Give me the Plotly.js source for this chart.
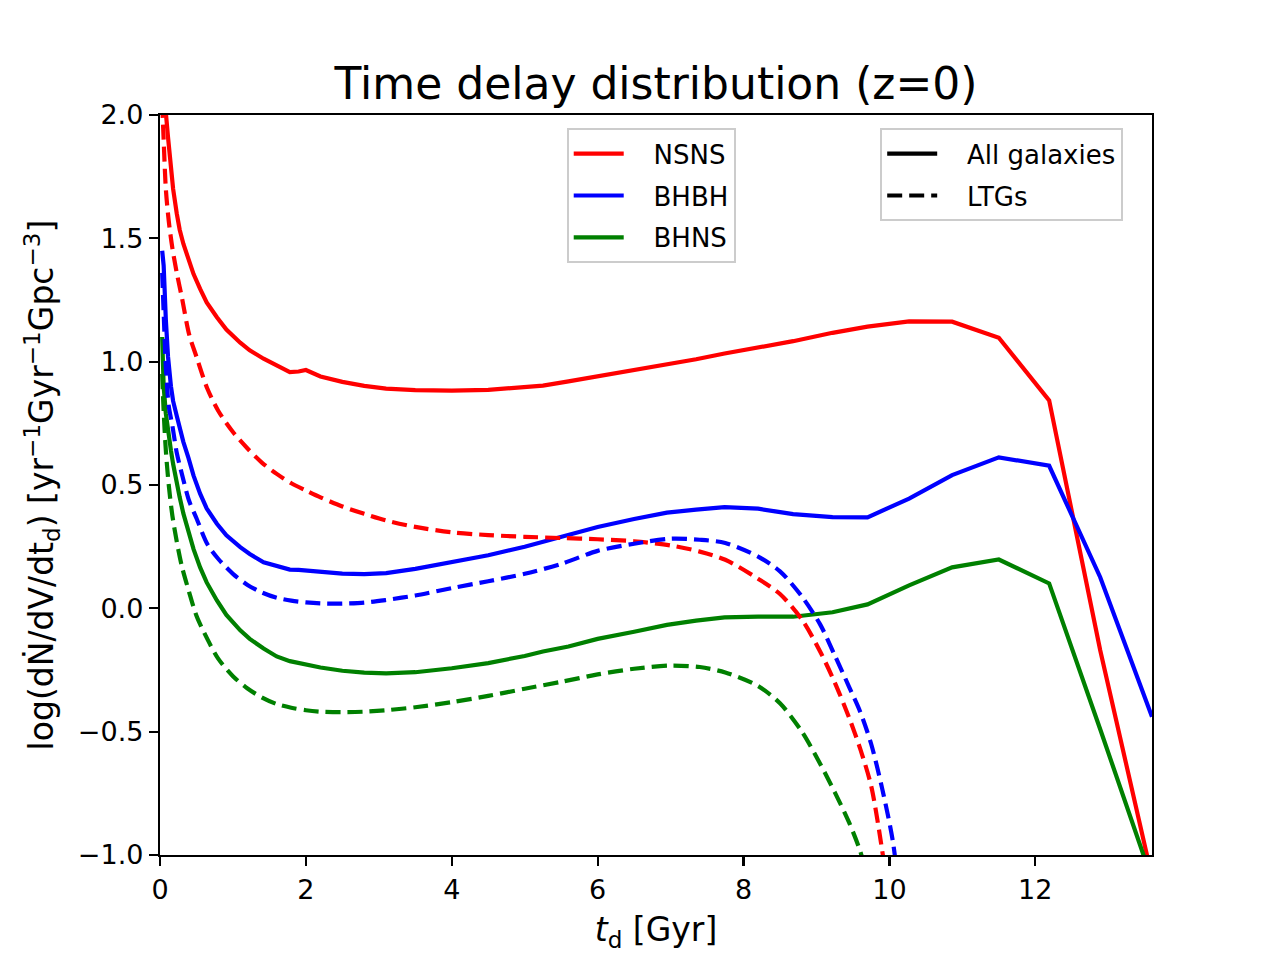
<!DOCTYPE html>
<html>
<head>
<meta charset="utf-8">
<script src="https://cdn.plot.ly/plotly-3.0.1.min.js"></script>
<style>html,body{margin:0;padding:0;background:#fff;}#plot{width:1280px;height:960px;}</style>
</head>
<body>
<div id="plot"></div>
<script>
// time-delay grid for "All galaxies" curves [Gyr]
const tAll = [0.03,0.05,0.08,0.11,0.15,0.18,0.23,0.27,0.32,0.39,0.46,0.55,0.64,0.78,0.91,1.1,1.23,1.42,1.6,1.78,
  1.9,2.0,2.2,2.5,2.8,3.1,3.5,4.0,4.5,5.0,5.25,5.6,6.0,6.5,6.95,7.35,7.74,8.2,8.68,9.22,9.7,10.27,10.86,11.5,12.19,12.89,13.6];
const nsnsAll = [2.5,2.25,2.01,1.91,1.78,1.70,1.60,1.535,1.478,1.41,1.355,1.295,1.24,1.18,1.13,1.077,1.046,1.012,0.985,0.958,
  0.96,0.966,0.94,0.918,0.902,0.891,0.885,0.883,0.886,0.895,0.903,0.92,0.94,0.965,0.99,1.01,1.033,1.057,1.083,1.117,1.142,1.163,1.162,1.097,0.843,-0.17,-1.09];
const bhbhAll = [1.45,1.39,1.17,1.02,0.9,0.84,0.78,0.725,0.675,0.61,0.538,0.465,0.405,0.343,0.296,0.248,0.22,0.187,0.17,0.157,
  0.156,0.153,0.146,0.141,0.139,0.143,0.16,0.188,0.215,0.25,0.27,0.3,0.33,0.362,0.388,0.4,0.41,0.404,0.382,0.37,0.369,0.445,0.54,0.612,0.578,0.126,-0.44];
const bhnsAll = [1.1,0.9,0.79,0.715,0.64,0.585,0.505,0.45,0.385,0.31,0.24,0.166,0.105,0.032,-0.027,-0.089,-0.124,-0.163,-0.195,-0.214,
  -0.222,-0.227,-0.24,-0.253,-0.261,-0.264,-0.259,-0.243,-0.222,-0.193,-0.175,-0.155,-0.124,-0.095,-0.067,-0.05,-0.037,-0.034,-0.034,-0.016,0.016,0.093,0.166,0.198,0.101,-0.49,-1.1];

// time-delay grid for "LTGs" curves [Gyr]
const tLTG = [0.03,0.05,0.08,0.12,0.17,0.23,0.3,0.4,0.5,0.65,0.8,1.0,1.2,1.4,1.6,1.8,2.0,2.2,2.5,2.8,3.1,3.5,4.0,4.5,5.0,5.5,6.0,6.5,7.0,7.4,7.75,8.2,8.5,8.8,9.05,9.25,9.45,9.6,9.75,9.9,10.05,10.2];
const nsnsLTG = [2.05,1.9,1.7,1.57,1.46,1.36,1.26,1.11,1.02,0.89,0.80,0.715,0.648,0.59,0.545,0.507,0.478,0.45,0.413,0.383,0.356,0.33,0.308,0.297,0.29,0.285,0.28,0.272,0.255,0.23,0.197,0.12,0.058,-0.045,-0.175,-0.3,-0.445,-0.57,-0.72,-0.98,-1.3,-1.7];
const bhbhLTG = [1.36,1.2,0.98,0.82,0.74,0.63,0.545,0.435,0.365,0.26,0.2,0.14,0.095,0.064,0.043,0.031,0.024,0.02,0.019,0.023,0.034,0.052,0.082,0.11,0.14,0.18,0.233,0.262,0.282,0.278,0.265,0.21,0.15,0.048,-0.065,-0.19,-0.32,-0.42,-0.55,-0.73,-0.95,-1.35];
const bhnsLTG = [0.95,0.8,0.64,0.5,0.375,0.27,0.17,0.065,-0.03,-0.125,-0.205,-0.275,-0.325,-0.362,-0.388,-0.403,-0.413,-0.419,-0.421,-0.419,-0.413,-0.401,-0.38,-0.355,-0.326,-0.298,-0.268,-0.245,-0.232,-0.238,-0.26,-0.315,-0.385,-0.5,-0.63,-0.745,-0.87,-0.985,-1.15,-1.35,-1.6,-1.9];

const speciesNames = ['NSNS','BHBH','BHNS'];
const speciesColors = ['#ff0000','#0000ff','#008000'];
const styleNames = ['All galaxies','LTGs'];

const LW = 4.2;
const DASH = '15px,7px';
const GAP = '\u00a0\u00a0\u00a0';
const allSeries = [nsnsAll, bhbhAll, bhnsAll];
const ltgSeries = [nsnsLTG, bhbhLTG, bhnsLTG];

const traces = [];
for (let i = 0; i < 3; i++) {
  traces.push({x: tAll, y: allSeries[i], mode: 'lines', type: 'scatter',
    name: GAP + speciesNames[i], legend: 'legend', legendgroup: 'g' + i,
    line: {color: speciesColors[i], width: LW}, hoverinfo: 'skip'});
}
for (let i = 0; i < 3; i++) {
  traces.push({x: tLTG, y: ltgSeries[i], mode: 'lines', type: 'scatter',
    showlegend: false, line: {color: speciesColors[i], width: LW, dash: DASH, shape: 'spline', smoothing: 0.8}, hoverinfo: 'skip'});
}
// style legend entries
traces.push({x: [null], y: [null], mode: 'lines', type: 'scatter', name: GAP + styleNames[0],
  legend: 'legend2', legendgroup: 's0', line: {color: '#000', width: LW}});
traces.push({x: [null], y: [null], mode: 'lines', type: 'scatter', name: GAP + styleNames[1],
  legend: 'legend2', legendgroup: 's1', line: {color: '#000', width: LW, dash: DASH}});

const FONT = 'DejaVu Sans, Liberation Sans, sans-serif';
const legendBase = {
  xanchor: 'left', yanchor: 'top', bgcolor: 'rgba(255,255,255,0.8)',
  bordercolor: '#cccccc', borderwidth: 2, font: {family: FONT, size: 26, color: '#000'},
  traceorder: 'grouped', tracegroupgap: 5, itemwidth: 50
};

const layout = {
  width: 1280, height: 960,
  paper_bgcolor: '#fff', plot_bgcolor: '#fff',
  margin: {l: 160, r: 128, t: 115, b: 105, pad: 0},
  font: {family: FONT, color: '#000'},
  title: {text: 'Time delay distribution (z=0)', font: {family: FONT, size: 44, color: '#000'},
    x: 0.5125, xanchor: 'center', y: 0.897, yanchor: 'bottom', yref: 'container'},
  showlegend: true,
  legend: Object.assign({}, legendBase, {x: 0.41, y: 0.982}),
  legend2: Object.assign({}, legendBase, {x: 0.726, y: 0.982}),
  xaxis: {
    range: [0, 13.6], dtick: 2, tick0: 0,
    showline: true, mirror: true, linecolor: '#000', linewidth: 2.2,
    ticks: 'outside', ticklen: 9, tickwidth: 2.2, tickcolor: '#000',
    showgrid: false, zeroline: false,
    tickfont: {family: FONT, size: 27, color: '#000'},
    title: {text: '<i>t</i><sub>d</sub> [Gyr]', font: {family: FONT, size: 33, color: '#000'}, standoff: 14}
  },
  yaxis: {
    range: [-1, 2], dtick: 0.5, tick0: 0, tickformat: '.1f',
    showline: true, mirror: true, linecolor: '#000', linewidth: 2.2,
    ticks: 'outside', ticklen: 9, tickwidth: 2.2, tickcolor: '#000',
    showgrid: false, zeroline: false,
    tickfont: {family: FONT, size: 27, color: '#000'},
    title: {text: 'log(dṄ/dV/dt<sub>d</sub>) [yr<sup>−1</sup>Gyr<sup>−1</sup>Gpc<sup>−3</sup>]', font: {family: FONT, size: 33, color: '#000'}, standoff: 14}
  }
};

Plotly.newPlot('plot', traces, layout, {staticPlot: true, displayModeBar: false});
</script>
</body>
</html>
